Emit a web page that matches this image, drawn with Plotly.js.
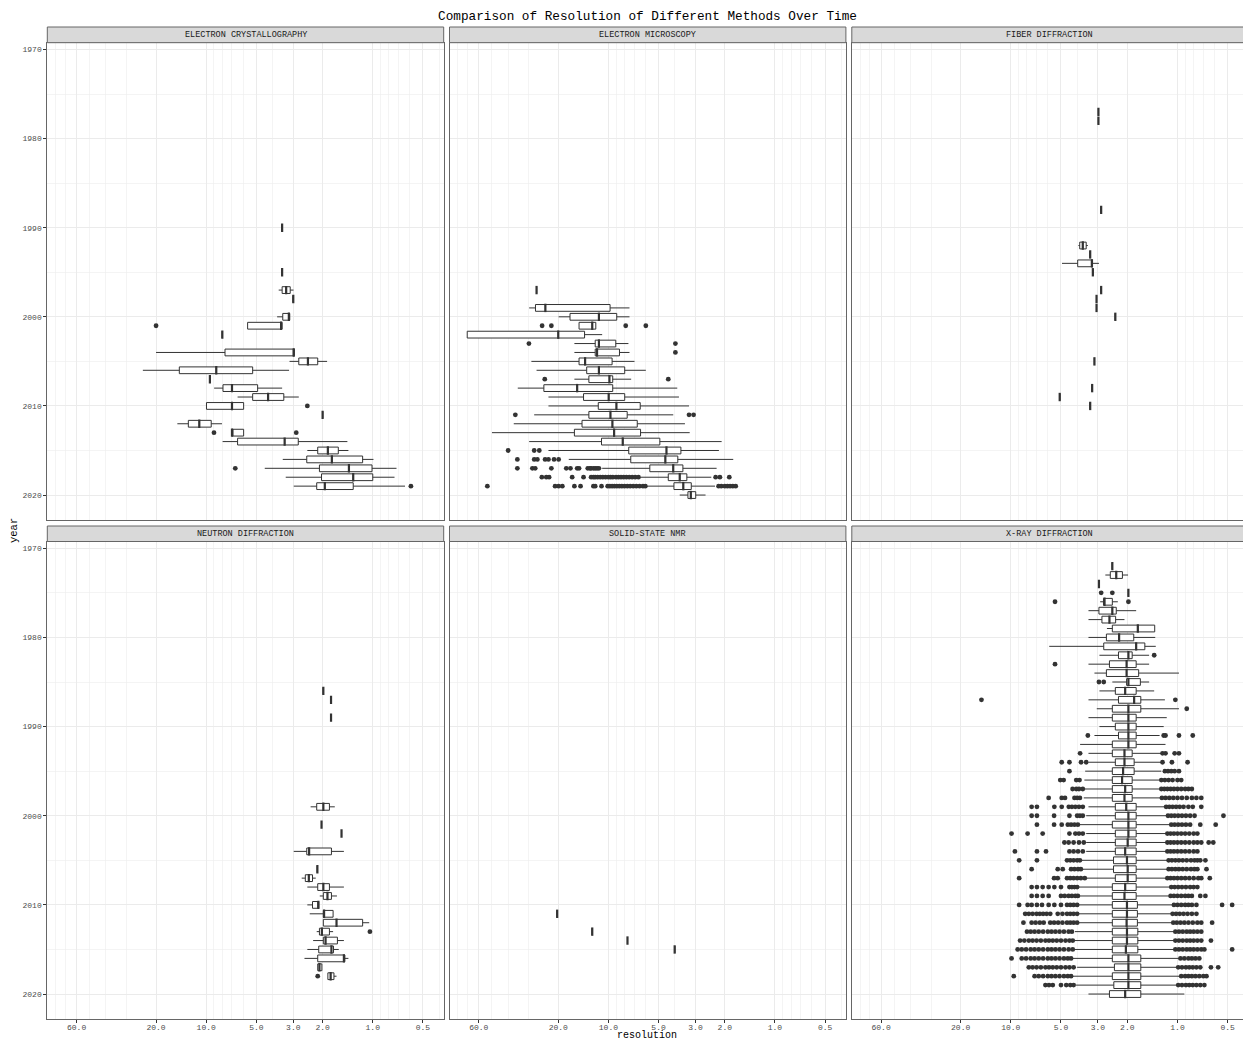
<!DOCTYPE html>
<html>
<head>
<meta charset="utf-8">
<script src="https://cdn.plot.ly/plotly-3.0.1.min.js"></script>
<style>html,body{margin:0;padding:0;background:#fff}#chart{width:1243px;height:1042px}</style>
</head>
<body>
<div id="chart"></div>
<script>
// ---------------- DATA ----------------
const facetNames = ['ELECTRON CRYSTALLOGRAPHY','ELECTRON MICROSCOPY','FIBER DIFFRACTION','NEUTRON DIFFRACTION','SOLID-STATE NMR','X-RAY DIFFRACTION'];

const xTickVals = [60,20,10,5,3,2,1,0.5];
const xTickText = ['60.0','20.0','10.0','5.0','3.0','2.0','1.0','0.5'];
const xMinorVals = [80,70,50,40,30,9,8,7,6,4,0.9,0.8,0.7,0.6,0.4];
const yTickVals = [1970,1980,1990,2000,2010,2020];
const yMinorVals = [1975,1985,1995,2005,2015];

// Electron crystallography
const ecYears = [1990,1995,1997,1998,2000,2001,2002,2004,2005,2006,2007,2008,2009,2010,2011,2012,2013,2014,2015,2016,2017,2018,2019];
const ecLo  = [3.5,3.5,2.99,3.0,3.15,3.5,8.0,2.96,1.88,3.18,9.5,3.5,2.78,5.96,2.0,8.04,5.96,1.42,1.40,0.99,0.72,0.74,0.64];
const ecQ1  = [3.5,3.5,3.13,3.0,3.15,3.5,8.0,2.96,2.14,5.26,9.5,4.91,3.42,5.96,2.0,9.33,5.96,2.80,1.61,1.15,1.01,1.00,1.31];
const ecMed = [3.5,3.5,3.31,3.0,3.19,3.55,8.0,2.98,2.45,8.7,9.5,7.0,4.25,7.0,2.0,11.0,7.0,3.38,1.86,1.76,1.39,1.31,1.94];
const ecQ3  = [3.5,3.5,3.50,3.0,3.47,5.64,8.0,7.71,2.78,14.5,9.5,7.93,5.26,9.96,2.0,12.8,7.0,6.48,2.14,2.49,2.09,2.03,2.17];
const ecHi  = [3.5,3.5,3.67,3.0,3.75,5.64,8.0,20.0,3.16,24.0,9.5,8.96,6.48,9.96,2.0,14.9,7.0,7.97,2.47,3.47,4.45,3.33,2.98];
const ecOut = [[2001,[20.0]],[2010,[2.47]],[2013,[8.98,2.88]],[2017,[6.69]],[2019,[0.59]]];

// Electron microscopy
const emYears = [1997,1999,2000,2001,2002,2003,2004,2005,2006,2007,2008,2009,2010,2011,2012,2013,2014,2015,2016,2017,2018,2019,2020];
const emLo  = [27.0,7.47,7.47,11.9,10.9,7.58,7.47,6.97,5.96,7.30,3.86,3.77,3.28,4.08,3.47,3.25,2.09,2.17,1.78,2.24,2.41,2.29,2.61];
const emQ1  = [27.0,9.77,8.91,11.9,13.9,9.03,8.58,9.5,7.98,9.42,9.42,7.98,6.44,7.71,6.71,6.41,4.91,3.67,3.83,3.57,3.38,3.18,2.99];
const emMed = [27.0,23.9,11.4,12.5,20.0,11.4,11.7,13.8,11.4,9.86,15.4,9.96,8.95,9.72,9.46,9.24,8.20,4.48,4.55,4.08,3.73,3.55,3.20];
const emQ3  = [27.0,27.4,17.0,15.0,70.4,12.0,12.0,15.0,13.5,13.1,24.4,14.1,11.5,13.1,14.4,16.0,11.0,7.55,7.34,5.64,4.37,4.04,3.33];
const emHi  = [27.0,29.9,19.9,15.0,70.4,16.0,16.0,29.0,27.0,16.0,35.0,22.9,22.9,27.9,37.0,50.0,29.9,22.9,17.3,10.9,6.41,5.85,3.73];
const emOut = [
  [2001,[25.0,22.0,7.87,5.96]],
  [2003,[30.0,3.96]],
  [2004,[3.96]],
  [2007,[24.1,4.37]],
  [2011,[36.2,3.28,3.08]],
  [2015,[40.0,27.9,26.0]],
  [2016,[35.2,27.9,26.7,24.0,22.9,21.2,19.9]],
  [2017,[35.2,28.6,27.5,22.0,17.9,16.9,15.4,15.0,13.3,12.9,12.7,12.3,12.0,11.7,11.4]],
  [2018,[25.1,23.6,22.7,16.5,14.1,12.7,12.3,12.0,11.6,11.2,10.8,10.4,10.0,9.7,9.4,9.0,8.7,8.4,8.1,7.8,7.5,7.2,6.9,6.6,2.27,2.14,1.88]],
  [2019,[53.3,20.9,19.9,18.9,16.0,14.7,12.3,12.0,11.0,10.1,9.8,9.5,9.2,8.9,8.6,8.3,8.0,7.7,7.4,7.1,6.8,6.5,6.2,6.0,2.18,2.10,2.00,1.93,1.86,1.79,1.72]]
];

// Fiber diffraction
const fdYears = [1977,1978,1988,1992,1993,1994,1995,1997,1998,1999,2000,2005,2008,2009,2010];
const fdLo  = [2.98,2.98,2.87,3.45,3.34,2.96,3.22,2.87,3.06,3.06,2.36,3.15,3.25,5.09,3.34];
const fdQ1  = [2.98,2.98,2.87,3.53,3.34,3.24,3.22,2.87,3.06,3.06,2.36,3.15,3.25,5.09,3.34];
const fdMed = [2.98,2.98,2.87,3.70,3.34,3.26,3.22,2.87,3.06,3.06,2.36,3.15,3.25,5.09,3.34];
const fdQ3  = [2.98,2.98,2.87,3.86,3.34,3.97,3.22,2.87,3.06,3.06,2.36,3.15,3.25,5.09,3.34];
const fdHi  = [2.98,2.98,2.87,3.93,3.34,4.93,3.22,2.87,3.06,3.06,2.36,3.15,3.25,5.09,3.34];
const fdOut = [];

// Neutron diffraction
const ndYears = [1986,1987,1989,1999,2001,2002,2004,2006,2007,2008,2009,2010,2011,2012,2013,2014,2015,2016,2017,2018];
const ndLo  = [1.98,1.78,1.78,1.69,2.03,1.54,1.49,2.15,2.20,1.49,1.64,2.11,1.73,1.05,1.73,1.49,1.60,1.40,2.02,1.65];
const ndQ1  = [1.98,1.78,1.78,1.82,2.03,1.54,1.77,2.15,2.30,1.82,1.77,2.11,1.73,1.15,1.82,1.63,1.72,1.47,2.02,1.71];
const ndMed = [1.98,1.78,1.78,1.98,2.03,1.54,2.41,2.15,2.42,1.98,1.87,2.12,1.96,1.65,2.02,1.92,1.77,1.49,2.09,1.79];
const ndQ3  = [1.98,1.78,1.78,2.17,2.03,1.54,2.49,2.15,2.54,2.14,1.98,2.30,1.98,1.98,2.09,1.98,2.11,2.14,2.14,1.86];
const ndHi  = [1.98,1.78,1.78,2.36,2.03,1.54,2.98,2.15,2.67,2.47,2.08,2.47,2.39,1.98,2.17,2.28,2.47,2.57,2.14,1.86];
const ndOut = [[2013,[1.04]],[2018,[2.14]]];

// Solid-state NMR
const nmrYears = [2011,2013,2014,2015];
const nmrLo  = [20.3,12.5,7.68,4.0];
const nmrQ1  = [20.3,12.5,7.68,4.0];
const nmrMed = [20.3,12.5,7.68,4.0];
const nmrQ3  = [20.3,12.5,7.68,4.0];
const nmrHi  = [20.3,12.5,7.68,4.0];
const nmrOut = [];

// X-ray diffraction
const xrYears = [1972,1973,1974,1975,1976,1977,1978,1979,1980,1981,1982,1983,1984,1985,1986,1987,1988,1989,1990,1991,1992,1993,1994,1995,1996,1997,1998,1999,2000,2001,2002,2003,2004,2005,2006,2007,2008,2009,2010,2011,2012,2013,2014,2015,2016,2017,2018,2019,2020];
const xrLo  = [2.46,1.98,2.96,1.97,2.28,1.77,2.08,1.37,1.36,1.35,1.48,1.48,0.98,1.48,1.38,1.19,0.98,1.16,1.21,1.28,1.18,1.25,1.25,1.25,1.28,1.26,1.26,1.18,1.15,1.10,1.16,1.16,1.16,1.14,1.14,1.16,1.10,1.11,1.06,1.08,1.07,1.04,1.04,1.04,0.97,1.00,0.96,1.00,0.91];
const xrQ1  = [2.46,2.14,2.96,1.97,2.46,2.33,2.35,1.37,1.83,1.57,1.87,1.77,1.71,1.67,1.77,1.66,1.66,1.77,1.77,1.77,1.77,1.87,1.82,1.82,1.87,1.87,1.87,1.77,1.77,1.77,1.77,1.77,1.77,1.77,1.77,1.77,1.77,1.77,1.74,1.74,1.74,1.73,1.73,1.73,1.66,1.66,1.66,1.66,1.66];
const xrMed = [2.46,2.33,2.96,1.97,2.74,2.46,2.56,1.73,2.24,1.77,1.97,2.02,2.02,1.97,2.06,1.82,1.97,1.97,1.97,1.97,1.97,2.08,2.08,2.12,2.15,2.06,2.08,2.03,1.97,1.97,1.97,1.99,2.06,2.01,1.99,1.99,2.06,2.08,2.01,2.01,2.02,2.01,2.01,2.04,1.97,1.97,1.97,1.97,2.06];
const xrQ3  = [2.46,2.53,2.96,1.97,2.78,2.96,2.84,2.46,2.67,2.77,2.26,2.56,2.67,2.02,2.36,2.26,2.46,2.46,2.36,2.26,2.46,2.46,2.36,2.46,2.46,2.46,2.46,2.36,2.36,2.46,2.36,2.36,2.36,2.42,2.42,2.36,2.46,2.46,2.46,2.46,2.46,2.46,2.46,2.46,2.46,2.39,2.46,2.41,2.56];
const xrHi  = [2.46,2.71,2.96,1.97,2.91,3.42,3.42,2.65,3.42,5.88,2.94,3.42,3.15,2.46,2.94,3.42,3.05,3.42,2.94,3.15,3.84,3.42,3.42,3.58,3.62,3.62,3.65,3.42,3.53,3.93,3.53,3.53,3.53,3.79,3.79,3.53,3.93,3.93,3.93,3.93,3.96,4.12,4.12,4.12,4.31,4.00,4.31,4.06,3.42];
const xrOut = [
  [1975,[2.87,2.46]],
  [1976,[5.43,1.97]],
  [1982,[1.38]],
  [1983,[5.43]],
  [1985,[2.96,2.77]],
  [1987,[15.0,1.03]],
  [1988,[0.88]],
  [1991,[3.45,1.21,1.18,0.98,0.81]],
  [1993,[3.84,1.23,1.18,1.04,0.98]],
  [1994,[4.95,4.45,3.79,3.53,1.23,1.08,0.87]],
  [1995,[4.45,1.19,1.14,1.09,1.04,0.98]],
  [1996,[5.05,4.82,4.05,3.87,1.25,1.19,1.13,1.07,1.00,0.95]],
  [1997,[4.26,4.05,3.90,3.70,1.25,1.20,1.15,1.10,1.05,1.00,0.95,0.90,0.86,0.82]],
  [1998,[5.93,4.95,4.73,4.15,4.00,3.85,1.24,1.18,1.12,1.06,1.00,0.94,0.88,0.82,0.77,0.72]],
  [1999,[7.5,6.97,5.48,4.95,4.49,4.3,4.1,3.9,3.7,1.17,1.12,1.07,1.02,0.97,0.92,0.86,0.81,0.72]],
  [2000,[7.5,6.97,5.5,4.45,4.0,3.85,3.7,1.14,1.09,1.04,0.99,0.94,0.89,0.84,0.79,0.53]],
  [2001,[6.97,5.5,4.95,4.55,4.35,4.15,3.96,1.09,1.04,0.99,0.94,0.89,0.84,0.73,0.59]],
  [2002,[9.9,7.93,6.44,4.45,4.1,3.9,3.7,1.15,1.10,1.05,1.00,0.95,0.90,0.85,0.80,0.76]],
  [2003,[4.77,4.5,4.2,3.9,3.65,1.15,1.10,1.05,1.00,0.95,0.90,0.85,0.80,0.76,0.72,0.65,0.61]],
  [2004,[9.45,6.97,6.15,4.45,4.2,3.95,3.7,1.15,1.10,1.05,1.00,0.95,0.90,0.85,0.80,0.76]],
  [2005,[8.91,6.97,4.6,4.4,4.2,4.0,3.85,1.13,1.08,1.03,0.98,0.93,0.88,0.83,0.79,0.76,0.73,0.68]],
  [2006,[7.5,5.23,4.88,4.35,4.15,3.95,3.8,1.13,1.08,1.03,0.98,0.93,0.88,0.83,0.79,0.76,0.67]],
  [2007,[8.91,5.5,5.23,4.6,4.4,4.2,4.0,3.8,3.6,1.15,1.10,1.05,1.00,0.95,0.90,0.85,0.80,0.75,0.72,0.64]],
  [2008,[7.5,6.97,6.44,5.93,5.48,5.0,4.45,4.3,4.15,4.0,1.09,1.04,0.99,0.94,0.89,0.84,0.80,0.76]],
  [2009,[7.5,6.97,6.44,5.93,5.0,4.75,4.5,4.3,4.1,3.96,1.10,1.05,1.00,0.95,0.90,0.86,0.82,0.73,0.68]],
  [2010,[8.91,7.93,7.5,6.97,6.5,5.93,5.48,5.0,4.6,4.4,4.2,4.0,1.05,1.00,0.95,0.90,0.86,0.82,0.77,0.54,0.47]],
  [2011,[8.2,7.8,7.4,7.0,6.7,6.4,6.1,5.8,5.23,4.9,4.6,4.4,4.2,4.0,1.07,1.02,0.97,0.92,0.87,0.82,0.77]],
  [2012,[8.4,7.5,7.1,6.7,6.35,5.8,5.5,5.2,4.9,4.6,4.4,4.2,4.0,1.06,1.01,0.96,0.91,0.86,0.81,0.76,0.72,0.62]],
  [2013,[8.0,7.6,7.2,6.8,6.4,6.0,5.7,5.4,5.1,4.8,4.5,4.3,1.03,0.98,0.93,0.88,0.84,0.80,0.76,0.72]],
  [2014,[8.8,8.3,7.8,7.4,7.0,6.6,6.2,5.9,5.6,5.3,5.0,4.7,4.45,4.25,1.03,0.98,0.93,0.88,0.84,0.80,0.76,0.72,0.63]],
  [2015,[9.1,8.6,8.1,7.6,7.2,6.8,6.4,6.0,5.7,5.4,5.1,4.8,4.5,4.25,1.03,0.98,0.93,0.88,0.84,0.80,0.76,0.72,0.69,0.47]],
  [2016,[9.9,8.6,8.1,7.6,7.2,6.8,6.4,6.0,5.7,5.4,5.1,4.8,4.55,4.35,0.96,0.91,0.86,0.82,0.78,0.74]],
  [2017,[7.8,7.4,7.0,6.6,6.2,5.9,5.6,5.3,5.0,4.7,4.45,4.2,0.99,0.94,0.89,0.85,0.81,0.77,0.73,0.63,0.57]],
  [2018,[9.6,7.2,6.8,6.4,6.0,5.7,5.4,5.1,4.8,4.55,4.35,0.95,0.90,0.86,0.82,0.78,0.74,0.70,0.67]],
  [2019,[6.2,5.9,5.6,5.0,4.65,4.4,4.2,0.99,0.94,0.89,0.85,0.81,0.77,0.73,0.69]]
];

// ---------------- LAYOUT GEOMETRY ----------------
const W = 1243, H = 1042;
const FONT = '"Liberation Mono", "DejaVu Sans Mono", monospace';
const colPx = [[47.3,443.7],[449.5,845.9],[851.8,1243]];
const rowPx = [[42.7,520],[541.5,1019]];
const stripPx = [[27,42.7],[526,541.5]];
const xRanges = [[1.954,-0.426],[1.954,-0.426],[1.954,-0.393]];
const yRange = [2022.8,1969.24];

const facets = [
  {years:ecYears, lo:ecLo, q1:ecQ1, med:ecMed, q3:ecQ3, hi:ecHi, out:ecOut},
  {years:emYears, lo:emLo, q1:emQ1, med:emMed, q3:emQ3, hi:emHi, out:emOut},
  {years:fdYears, lo:fdLo, q1:fdQ1, med:fdMed, q3:fdQ3, hi:fdHi, out:fdOut},
  {years:ndYears, lo:ndLo, q1:ndQ1, med:ndMed, q3:ndQ3, hi:ndHi, out:ndOut},
  {years:nmrYears, lo:nmrLo, q1:nmrQ1, med:nmrMed, q3:nmrQ3, hi:nmrHi, out:nmrOut},
  {years:xrYears, lo:xrLo, q1:xrQ1, med:xrMed, q3:xrQ3, hi:xrHi, out:xrOut}
];

const traces = [];
const layout = {
  width: W, height: H,
  margin: {l:0, r:0, t:0, b:0},
  paper_bgcolor: '#fff', plot_bgcolor: '#fff',
  showlegend: false, hovermode: false, dragmode: false,
  title: {text: 'Comparison of Resolution of Different Methods Over Time',
          font: {family: FONT, size: 12.7, color: '#000'},
          x: 647.5/W, xanchor: 'center', xref: 'paper',
          y: 1 - 16/H, yanchor: 'middle', yref: 'paper'},
  shapes: [], annotations: []
};

facets.forEach((f, i) => {
  const row = Math.floor(i/3), col = i % 3;
  const sfx = i === 0 ? '' : String(i+1);
  const xa = 'x' + sfx, ya = 'y' + sfx;

  traces.push({
    type: 'box', orientation: 'h', y: f.years,
    q1: f.q1, median: f.med, q3: f.q3, lowerfence: f.lo, upperfence: f.hi,
    xaxis: xa, yaxis: ya, width: 0.76, whiskerwidth: 0,
    fillcolor: '#ffffff', line: {color: '#333333', width: 1},
    boxpoints: false, hoverinfo: 'skip', showlegend: false
  });
  traces.push({
    type: 'scatter', mode: 'markers', x: f.med, y: f.years, xaxis: xa, yaxis: ya,
    marker: {symbol: 'line-ns', size: 6, color: '#333333', line: {width: 2.2, color: '#333333'}},
    hoverinfo: 'skip', showlegend: false
  });
  const ox = [], oy = [];
  f.out.forEach(([yr, vals]) => vals.forEach(v => { ox.push(v); oy.push(yr); }));
  if (ox.length) traces.push({
    type: 'scatter', mode: 'markers', x: ox, y: oy, xaxis: xa, yaxis: ya,
    marker: {size: 4.8, color: '#333333'}, hoverinfo: 'skip', showlegend: false
  });

  const cx = colPx[col], ry = rowPx[row];
  layout['xaxis' + sfx] = {
    type: 'log', autorange: false, range: xRanges[col],
    domain: [cx[0]/W, Math.min(1, cx[1]/W)], anchor: ya,
    tickmode: 'array', tickvals: xTickVals, ticktext: xTickText,
    showticklabels: row === 1, ticks: row === 1 ? 'outside' : '',
    ticklen: 3, tickwidth: 1, tickcolor: '#333333', ticklabelstandoff: -3,
    tickfont: {family: FONT, size: 8, color: '#4d4d4d'},
    showgrid: true, gridcolor: '#ebebeb', gridwidth: 1,
    minor: {tickmode: 'array', tickvals: xMinorVals, showgrid: true, gridcolor: '#ededed', gridwidth: 0.6},
    zeroline: false, showline: true, mirror: true, linecolor: '#666666', linewidth: 1,
    fixedrange: true
  };
  layout['yaxis' + sfx] = {
    autorange: false, range: yRange,
    domain: [1 - ry[1]/H, 1 - ry[0]/H], anchor: xa,
    tickmode: 'array', tickvals: yTickVals,
    showticklabels: col === 0, ticks: col === 0 ? 'outside' : '',
    ticklen: 3, tickwidth: 1, tickcolor: '#333333',
    tickfont: {family: FONT, size: 8, color: '#4d4d4d'},
    showgrid: true, gridcolor: '#ebebeb', gridwidth: 1,
    minor: {tickmode: 'array', tickvals: yMinorVals, showgrid: true, gridcolor: '#ededed', gridwidth: 0.6},
    zeroline: false, showline: true, mirror: true, linecolor: '#666666', linewidth: 1,
    fixedrange: true
  };

  const sy = stripPx[row];
  const x1 = col === 2 ? 1248 : cx[1];
  layout.shapes.push({
    type: 'rect', xref: 'paper', yref: 'paper',
    x0: cx[0]/W, x1: x1/W, y0: 1 - sy[1]/H, y1: 1 - sy[0]/H,
    fillcolor: '#d9d9d9', line: {color: '#666666', width: 1}, layer: 'above'
  });
  layout.annotations.push({
    xref: 'paper', yref: 'paper', x: (cx[0] + x1)/2/W, y: 1 - (sy[0]+sy[1])/2/H,
    text: facetNames[i], showarrow: false, xanchor: 'center', yanchor: 'middle',
    font: {family: FONT, size: 8.5, color: '#1a1a1a'}
  });
});

layout.annotations.push({
  xref: 'paper', yref: 'paper', x: 14/W, y: 1 - 531/H, text: 'year', textangle: -90,
  showarrow: false, xanchor: 'center', yanchor: 'middle',
  font: {family: FONT, size: 10.5, color: '#000'}
});
layout.annotations.push({
  xref: 'paper', yref: 'paper', x: 647/W, y: 0, text: 'resolution',
  showarrow: false, xanchor: 'center', yanchor: 'bottom', borderpad: 0,
  font: {family: FONT, size: 10, color: '#000'}
});

Plotly.newPlot('chart', traces, layout, {staticPlot: true, displayModeBar: false});
</script>
</body>
</html>
